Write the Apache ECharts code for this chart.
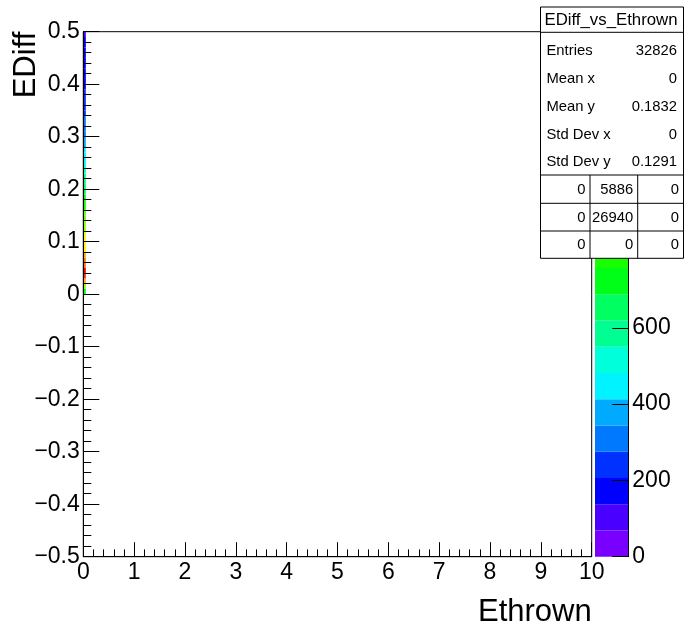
<!DOCTYPE html>
<html><head><meta charset="utf-8">
<script src="https://cdn.jsdelivr.net/npm/echarts@6/dist/echarts.min.js"></script>
<style>html,body{margin:0;padding:0;background:#fff}#c{width:684px;height:629px}</style>
</head><body><div id="c"></div>
<script>
// ---- data ----
const xBinEdges = [0, 0.05];           // the only filled Ethrown bin
const yBinWidth = 0.01;
const yBinLow = [0.00,0.01,0.02,0.03,0.04,0.05,0.06,0.07,0.08,0.09,
                 0.10,0.11,0.12,0.13,0.14,0.15,0.16,0.17,0.18,0.19,
                 0.20,0.21,0.22,0.23,0.24,0.25,0.26,0.27,0.28,0.29,
                 0.30,0.31,0.32,0.33,0.34,0.35,0.36,0.37,0.38,0.39,
                 0.40,0.41,0.42,0.43,0.44,0.45,0.46,0.47,0.48,0.49];
const yCounts = [700,900,1150,1300,1376,1220,1180,1130,1100,1070,
                 1040,1000,960,920,880,840,800,760,720,680,
                 640,600,570,540,510,480,455,430,405,385,
                 340,320,300,285,270,255,240,228,216,205,
                 195,186,178,170,163,156,150,144,139,134];
const zMax = 1376;
const nLevels = 20;
const statsTitle = 'EDiff_vs_Ethrown';
const statsLabels = ['Entries','Mean x','Mean y','Std Dev x','Std Dev y'];
const statsValues = ['32826','0','0.1832','0','0.1291'];
const overflowTable = [['0','5886','0'],['0','26940','0'],['0','0','0']];
const xTitle = 'Ethrown';
const yTitle = 'EDiff';

// ---- style helpers ----
const FONT = '"Liberation Sans", Arial, Helvetica, sans-serif';
function hsl(h){
  const a = 0.5, l = 0.5;
  const f = n => { const k = (n + h/30) % 12; return l - a*Math.max(-1, Math.min(k-3, 9-k, 1)); };
  const to = v => Math.round(v*255);
  return 'rgb(' + to(f(0)) + ',' + to(f(8)) + ',' + to(f(4)) + ')';
}
function levelColor(k){
  const c = Math.floor((k + 0.99) * 50 / nLevels);
  return hsl(280 - 280 * c / 49);
}
function valueColor(v){
  let k = Math.floor(0.01 + v / zMax * nLevels);
  if (k > nLevels - 1) k = nLevels - 1;
  return levelColor(k);
}
const fmtY = v => { const r = +(+v).toFixed(1); return r < 0 ? '\u2212' + Math.abs(r) : String(r); };

const L = 83.3, T = 31.7, R = 591.7, B = 556.7;
const PL = 595, PR = 628.3;

const chart = echarts.init(document.getElementById('c'), null, {renderer:'canvas'});

const heatData = yBinLow.map((y, i) => [xBinEdges[0], xBinEdges[1], y, y + yBinWidth, yCounts[i]]);
const paletteData = [];
for (let k = 0; k < nLevels; k++) paletteData.push([0, 1, k * zMax / nLevels, (k + 1) * zMax / nLevels, k]);

// stats box graphics
const BX0 = 540.5, BX1 = 683.5, BY0 = 7, BY1 = 258.3, BSEP = 32.3;
const g = [];
g.push({type:'rect', z:100, shape:{x:BX0, y:BY0, width:BX1-BX0, height:BY1-BY0}, style:{fill:'#fff', stroke:'#000', lineWidth:1}});
g.push({type:'line', z:101, shape:{x1:BX0, y1:BSEP, x2:BX1, y2:BSEP}, style:{stroke:'#000', lineWidth:1}});
g.push({type:'text', z:101, x:(BX0+BX1)/2 - 1, y:(BY0+BSEP)/2+1, style:{text:statsTitle, font:'16.8px ' + FONT, fill:'#000', align:'center', verticalAlign:'middle'}});
const rowY = [50.7, 79, 107, 135, 161.7];
statsLabels.forEach((s, i) => {
  g.push({type:'text', z:101, x:546.5, y:rowY[i], style:{text:s, font:'14.8px ' + FONT, fill:'#000', align:'left', verticalAlign:'middle'}});
  g.push({type:'text', z:101, x:677, y:rowY[i], style:{text:statsValues[i], font:'14.8px ' + FONT, fill:'#000', align:'right', verticalAlign:'middle'}});
});
const tabY = [175, 203.3, 231, BY1];
const tabX = [BX0, 590, 637.7, BX1];
tabY.slice(0,3).forEach(y => g.push({type:'line', z:101, shape:{x1:BX0, y1:y, x2:BX1, y2:y}, style:{stroke:'#000', lineWidth:1}}));
[590, 637.7].forEach(x => g.push({type:'line', z:101, shape:{x1:x, y1:tabY[0], x2:x, y2:BY1}, style:{stroke:'#000', lineWidth:1}}));
overflowTable.forEach((row, r) => row.forEach((s, c) => {
  g.push({type:'text', z:101, x:tabX[c+1]-4.5, y:(tabY[r]+tabY[r+1])/2+0.5, style:{text:s, font:'14.8px ' + FONT, fill:'#000', align:'right', verticalAlign:'middle'}});
}));
// axis titles
g.push({type:'text', z:50, x:R, y:612, style:{text:xTitle, font:'31px ' + FONT, fill:'#000', align:'right', verticalAlign:'middle'}});
g.push({type:'text', z:50, x:26, y:T, rotation:Math.PI/2, style:{text:yTitle, font:'31px ' + FONT, fill:'#000', align:'right', verticalAlign:'middle'}});

const axisLabelStyle = {color:'#000', fontFamily:FONT, fontSize:23};

chart.setOption({
  animation:false,
  backgroundColor:'#fff',
  grid:[
    {left:L, top:T, width:R-L, height:B-T, show:true, borderColor:'#000', borderWidth:1, backgroundColor:'transparent', containLabel:false, outerBoundsMode:'none'},
    {left:PL, top:T, width:PR-PL, height:B-T, show:false, containLabel:false, outerBoundsMode:'none'}
  ],
  xAxis:[
    {type:'value', gridIndex:0, min:0, max:10, interval:1, z:10,
     axisLine:{show:true, onZero:false, lineStyle:{color:'#000', width:1}},
     axisTick:{show:true, inside:true, length:14.5, lineStyle:{color:'#000', width:1}},
     minorTick:{show:true, splitNumber:5, length:7.3, lineStyle:{color:'#000', width:1}},
     splitLine:{show:false},
     axisLabel:Object.assign({margin:4}, axisLabelStyle)},
    {type:'value', gridIndex:1, min:0, max:1, show:false}
  ],
  yAxis:[
    {type:'value', gridIndex:0, min:-0.5, max:0.5, interval:0.1, z:10,
     axisLine:{show:true, onZero:false, lineStyle:{color:'#000', width:1}},
     axisTick:{show:true, inside:true, length:16, lineStyle:{color:'#000', width:1}},
     minorTick:{show:true, splitNumber:5, length:8, lineStyle:{color:'#000', width:1}},
     splitLine:{show:false},
     axisLabel:Object.assign({margin:3.5, formatter:fmtY}, axisLabelStyle)},
    {type:'value', gridIndex:1, position:'right', min:0, max:zMax, interval:200, z:10,
     axisLine:{show:true, onZero:false, lineStyle:{color:'#000', width:1}},
     axisTick:{show:true, inside:true, length:16, lineStyle:{color:'#000', width:1}},
     splitLine:{show:false},
     axisLabel:Object.assign({margin:4, showMaxLabel:false}, axisLabelStyle)}
  ],
  series:[
    {type:'custom', xAxisIndex:0, yAxisIndex:0, data:heatData, encode:{x:[0,1], y:[2,3]}, z:1,
     renderItem:(params, api) => {
       const p0 = api.coord([api.value(0), api.value(2)]);
       const p1 = api.coord([api.value(1), api.value(3)]);
       return {type:'rect', shape:{x:p0[0], y:p1[1], width:p1[0]-p0[0], height:p0[1]-p1[1]},
               style:{fill:valueColor(api.value(4)), stroke:null}};
     }},
    {type:'custom', xAxisIndex:1, yAxisIndex:1, data:paletteData, encode:{x:[0,1], y:[2,3]}, z:1,
     renderItem:(params, api) => {
       const p0 = api.coord([api.value(0), api.value(2)]);
       const p1 = api.coord([api.value(1), api.value(3)]);
       return {type:'rect', shape:{x:p0[0], y:p1[1], width:p1[0]-p0[0], height:p0[1]-p1[1]},
               style:{fill:levelColor(api.value(4)), stroke:null}};
     }}
  ],
  graphic:g
});
</script></body></html>
